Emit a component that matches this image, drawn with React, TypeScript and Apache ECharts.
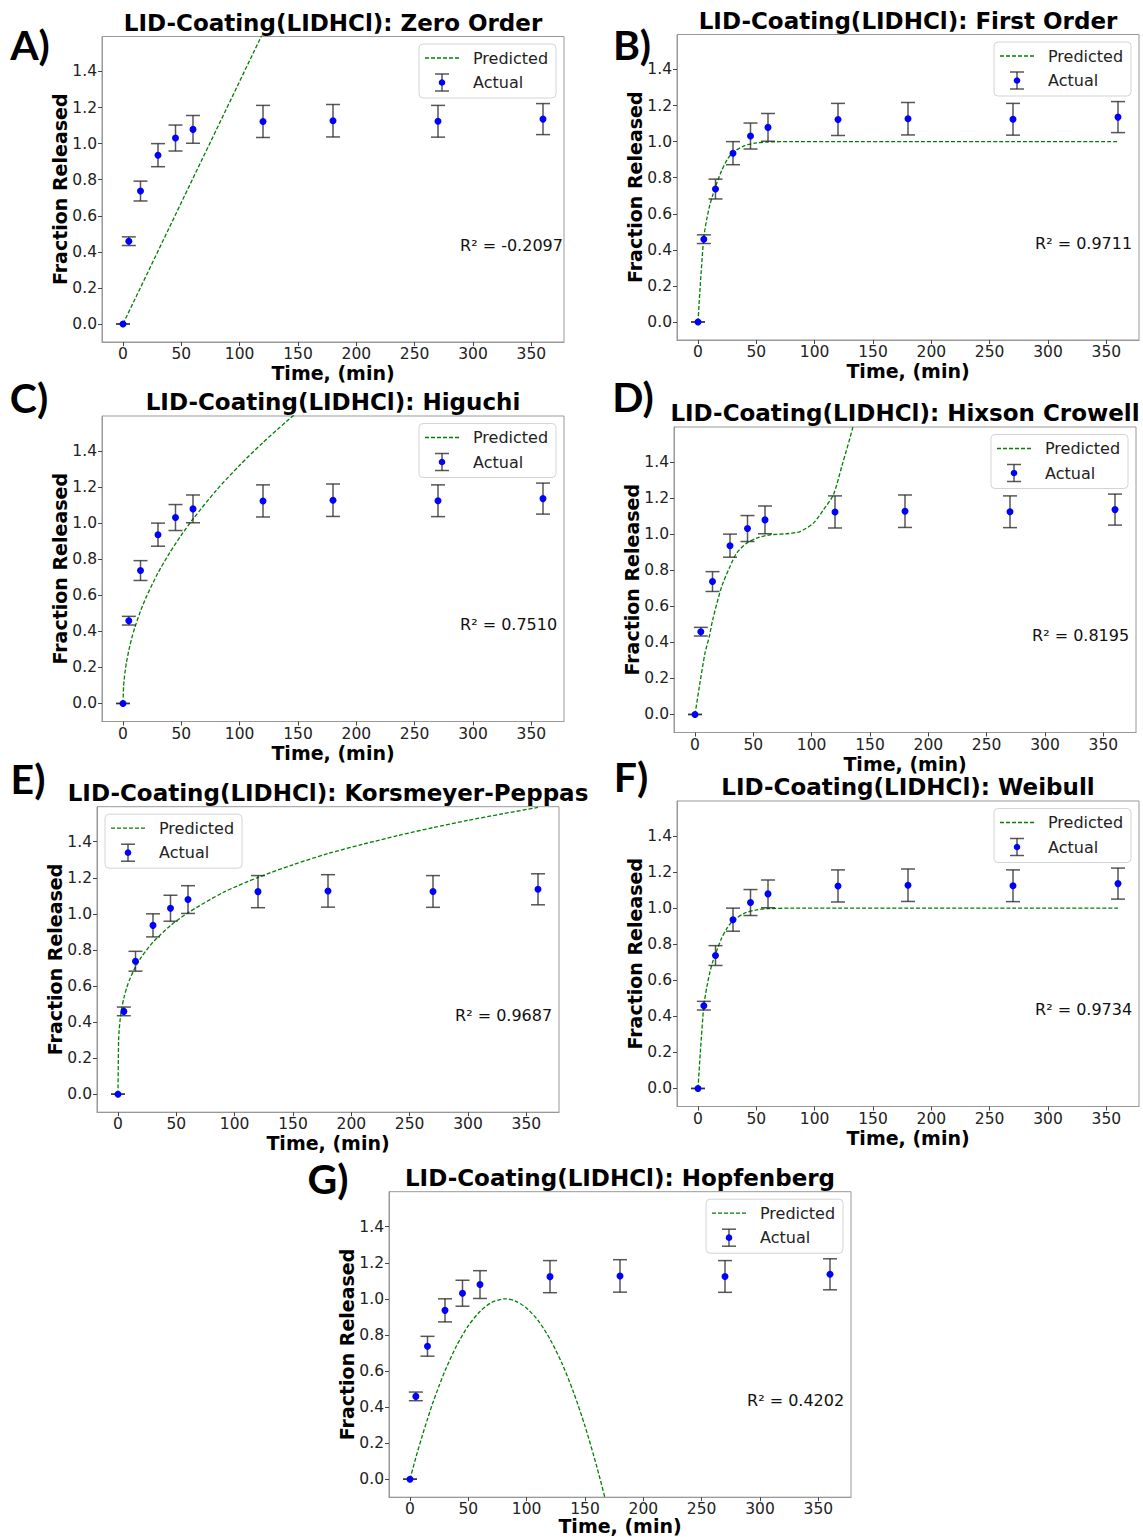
import React, { useEffect, useRef } from 'react';
import * as echarts from 'echarts';

// ---------- data ----------
const times = [0, 5, 15, 30, 45, 60, 120, 180, 270, 360];
const actualMean = [0, 0.459, 0.737, 0.936, 1.031, 1.079, 1.123, 1.127, 1.124, 1.136];
const actualErr = [0, 0.024, 0.055, 0.064, 0.072, 0.077, 0.089, 0.09, 0.088, 0.086];

const zeroT = [0, 30, 60, 90, 120, 150];
const zeroF = [0, 0.404, 0.808, 1.211, 1.615, 2.019];

const firstT = [0, 2, 5, 7.5, 10, 12.5, 15, 20, 25, 30, 40, 50, 60, 80, 120, 180, 270, 360];
const firstF = [0, 0.21, 0.47, 0.57, 0.645, 0.7, 0.75, 0.835, 0.9, 0.94, 0.978, 0.993, 0.998, 1.0, 1.0, 1.0, 1.0, 1.0];

const higuchiT = [0, 0.5, 1, 2, 3, 5, 7.5, 10, 15, 20, 30, 40, 50, 60, 80, 100, 120, 140, 160];
const higuchiF = [0, 0.093, 0.132, 0.187, 0.229, 0.295, 0.362, 0.418, 0.512, 0.591, 0.724, 0.835, 0.934, 1.023, 1.182, 1.321, 1.447, 1.563, 1.671];

const hixT = [0, 4, 8.6, 12.3, 15.2, 22.9, 30, 35.7, 44.3, 52.9, 64.3, 78.6, 90, 101.5, 110, 118.6, 126, 135.3, 145];
const hixF = [0, 0.165, 0.341, 0.433, 0.526, 0.71, 0.821, 0.895, 0.95, 0.978, 0.996, 1.002, 1.014, 1.061, 1.134, 1.218, 1.38, 1.594, 1.9];

const kpT = [0, 0.5, 1, 2, 3, 5, 7.5, 10, 15, 20, 30, 45, 60, 90, 120, 150, 180, 210, 240, 270, 300, 330, 360];
const kpF = [0, 0.296, 0.354, 0.422, 0.468, 0.533, 0.591, 0.636, 0.706, 0.76, 0.843, 0.935, 1.006, 1.118, 1.202, 1.272, 1.334, 1.386, 1.434, 1.478, 1.518, 1.555, 1.59];

const weibullT = [0, 2, 5, 7.5, 10, 12.5, 15, 20, 25, 30, 40, 50, 60, 80, 120, 180, 270, 360];
const weibullF = [0, 0.2, 0.46, 0.56, 0.64, 0.7, 0.745, 0.83, 0.89, 0.93, 0.972, 0.99, 0.997, 1.0, 1.0, 1.0, 1.0, 1.0];

const hopT = [0, 5, 10, 15, 20, 25, 30, 40, 50, 60, 70, 81.5, 90, 100, 110, 120, 130, 140, 150, 160, 170, 180];
const hopF = [0, 0.119, 0.23, 0.334, 0.431, 0.519, 0.601, 0.741, 0.851, 0.93, 0.98, 1.0, 0.989, 0.948, 0.878, 0.777, 0.646, 0.485, 0.294, 0.072, -0.179, -0.461];

const modelNames = ['Zero Order', 'First Order', 'Higuchi', 'Hixson Crowell', 'Korsmeyer-Peppas', 'Weibull', 'Hopfenberg'];
const r2Values = ['-0.2097', '0.9711', '0.7510', '0.8195', '0.9687', '0.9734', '0.4202'];
const panelLetters = ['A)', 'B)', 'C)', 'D)', 'E)', 'F)', 'G)'];
const predT = [zeroT, firstT, higuchiT, hixT, kpT, weibullT, hopT];
const predF = [zeroF, firstF, higuchiF, hixF, kpF, weibullF, hopF];

const xTicks = [0, 50, 100, 150, 200, 250, 300, 350];
const yTicks = [0, 0.2, 0.4, 0.6, 0.8, 1.0, 1.2, 1.4];

// ---------- layout (pixels) ----------
const W = 462;
const H = 305.5;
const layout = [
  { L: 102, T: 36.5, lx: 30, ly: 44, legendLeft: false, xn: 31 },
  { L: 677, T: 34.5, lx: 632, ly: 44, legendLeft: false, xn: 31 },
  { L: 102, T: 416, lx: 29, ly: 397, legendLeft: false, xn: 31 },
  { L: 674, T: 427, lx: 633, ly: 396, legendLeft: false, xn: 31 },
  { L: 97, T: 806.7, lx: 28, ly: 778, legendLeft: true, xn: 31 },
  { L: 677, T: 801, lx: 631, ly: 776, legendLeft: false, xn: 31 },
  { L: 389, T: 1191.7, lx: 328, ly: 1178, legendLeft: false, xn: 29 },
];

const FONT = '"DejaVu Sans", sans-serif';
const GREEN = '#008000';
const ERR = 'rgba(45,45,45,0.8)';

function buildOption() {
  const grid: any[] = [];
  const xAxis: any[] = [];
  const yAxis: any[] = [];
  const series: any[] = [];
  const graphic: any[] = [];

  layout.forEach((p, i) => {
    grid.push({
      left: p.L, top: p.T, width: W, height: H,
      show: true, borderColor: '#999', borderWidth: 1, backgroundColor: 'transparent',
      containLabel: false, outerBoundsMode: 'none',
    });
    xAxis.push({
      gridIndex: i, type: 'value', min: -18, max: 378,
      axisLine: { show: true, onZero: false, lineStyle: { color: '#999', width: 1 } },
      axisTick: { show: true, length: 4, customValues: xTicks, lineStyle: { color: '#444' } },
      axisLabel: { customValues: xTicks, margin: 4, fontSize: 15.5, fontFamily: FONT, color: '#222', formatter: (v: number) => String(v) },
      splitLine: { show: false },
    });
    yAxis.push({
      gridIndex: i, type: 'value', min: -0.1, max: 1.594,
      axisLine: { show: true, onZero: false, lineStyle: { color: '#999', width: 1 } },
      axisTick: { show: true, length: 4, customValues: yTicks, lineStyle: { color: '#444' } },
      axisLabel: { customValues: yTicks, margin: 5, fontSize: 15.5, fontFamily: FONT, color: '#222', formatter: (v: number) => v.toFixed(1) },
      splitLine: { show: false },
    });

    series.push({
      name: 'Predicted', type: 'line', xAxisIndex: i, yAxisIndex: i,
      data: predT[i].map((t, j) => [t, predF[i][j]]),
      symbol: 'none', showSymbol: false, smooth: i === 0 ? false : 0.25, clip: true,
      lineStyle: { color: GREEN, width: 1.3, type: [4, 2] }, z: 2, silent: true,
    });
    series.push({
      name: 'ErrorBars', type: 'custom', xAxisIndex: i, yAxisIndex: i,
      data: times.map((t, j) => [t, actualMean[j] - actualErr[j], actualMean[j] + actualErr[j]]),
      encode: { x: 0, y: [1, 2] }, z: 3, silent: true,
      renderItem: (params: any, api: any) => {
        const lo = api.coord([api.value(0), api.value(1)]);
        const hi = api.coord([api.value(0), api.value(2)]);
        const st = { stroke: ERR, lineWidth: 1.5, fill: 'none' };
        const cw = 7;
        return {
          type: 'group',
          children: [
            { type: 'line', shape: { x1: lo[0], y1: lo[1], x2: hi[0], y2: hi[1] }, style: st },
            { type: 'line', shape: { x1: lo[0] - cw, y1: lo[1], x2: lo[0] + cw, y2: lo[1] }, style: st },
            { type: 'line', shape: { x1: hi[0] - cw, y1: hi[1], x2: hi[0] + cw, y2: hi[1] }, style: st },
          ],
        };
      },
    });
    series.push({
      name: 'Actual', type: 'scatter', xAxisIndex: i, yAxisIndex: i,
      data: times.map((t, j) => [t, actualMean[j]]),
      symbol: 'circle', symbolSize: 7, itemStyle: { color: '#0000ff', opacity: 1 }, z: 4, silent: true,
    });

    const cx = p.L + W / 2;
    graphic.push({
      type: 'text', x: cx, y: p.T - 14, z: 100,
      style: { text: 'LID-Coating(LIDHCl): ' + modelNames[i], fontFamily: FONT, fontWeight: 'bold', fontSize: 23, fill: '#000', align: 'center', verticalAlign: 'middle' },
    });
    graphic.push({
      type: 'text', x: p.lx, y: p.ly, z: 100,
      style: { text: panelLetters[i], fontFamily: 'Lato, "Noto Sans", sans-serif', fontWeight: 'bold', fontSize: 41, fill: '#000', align: 'center', verticalAlign: 'middle' },
    });
    graphic.push({
      type: 'text', x: cx, y: p.T + H + p.xn, z: 100,
      style: { text: 'Time, (min)', fontFamily: FONT, fontWeight: 'bold', fontSize: 19, fill: '#000', align: 'center', verticalAlign: 'middle' },
    });
    graphic.push({
      type: 'text', x: p.L - 42, y: p.T + H / 2, rotation: Math.PI / 2, z: 100,
      style: { text: 'Fraction Released', fontFamily: FONT, fontWeight: 'bold', fontSize: 19, fill: '#000', align: 'center', verticalAlign: 'middle' },
    });
    graphic.push({
      type: 'text', x: p.L + 0.775 * W, y: p.T + 0.683 * H, z: 100,
      style: { text: 'R² = ' + r2Values[i], fontFamily: FONT, fontSize: 16, fill: '#111', align: 'left', verticalAlign: 'middle' },
    });
    const bw = 137;
    const bh = 54;
    const bx = p.legendLeft ? p.L + 8 : p.L + W - 8 - bw;
    const by = p.T + 7.5;
    const ex = bx + 23;
    graphic.push({
      type: 'group', z: 90,
      children: [
        { type: 'rect', shape: { x: bx, y: by, width: bw, height: bh, r: 4 }, style: { fill: 'rgba(255,255,255,0.85)', stroke: '#d4d4d4', lineWidth: 1 }, z: 90 },
        { type: 'line', shape: { x1: bx + 6, y1: by + 14, x2: bx + 40, y2: by + 14 }, style: { stroke: GREEN, lineWidth: 1.3, lineDash: [4, 2] }, z: 91 },
        { type: 'text', x: bx + 54, y: by + 14, z: 91, style: { text: 'Predicted', fontFamily: FONT, fontSize: 16, fill: '#222', align: 'left', verticalAlign: 'middle' } },
        { type: 'line', shape: { x1: ex, y1: by + 30, x2: ex, y2: by + 47 }, style: { stroke: ERR, lineWidth: 1.5 }, z: 91 },
        { type: 'line', shape: { x1: ex - 7, y1: by + 30, x2: ex + 7, y2: by + 30 }, style: { stroke: ERR, lineWidth: 1.5 }, z: 91 },
        { type: 'line', shape: { x1: ex - 7, y1: by + 47, x2: ex + 7, y2: by + 47 }, style: { stroke: ERR, lineWidth: 1.5 }, z: 91 },
        { type: 'circle', shape: { cx: ex, cy: by + 38.5, r: 3.3 }, style: { fill: '#0000ff' }, z: 92 },
        { type: 'text', x: bx + 54, y: by + 38.5, z: 91, style: { text: 'Actual', fontFamily: FONT, fontSize: 16, fill: '#222', align: 'left', verticalAlign: 'middle' } },
      ],
    });
  });

  return {
    animation: false,
    backgroundColor: '#ffffff',
    grid, xAxis, yAxis, series, graphic,
  };
}

export default function App() {
  const ref = useRef<HTMLDivElement>(null);
  useEffect(() => {
    document.body.style.margin = '0';
    const chart = echarts.init(ref.current as HTMLDivElement, null, { renderer: 'svg' });
    chart.setOption(buildOption() as any);
    return () => chart.dispose();
  }, []);
  return <div ref={ref} style={{ width: 1143, height: 1537, background: '#fff' }} />;
}
